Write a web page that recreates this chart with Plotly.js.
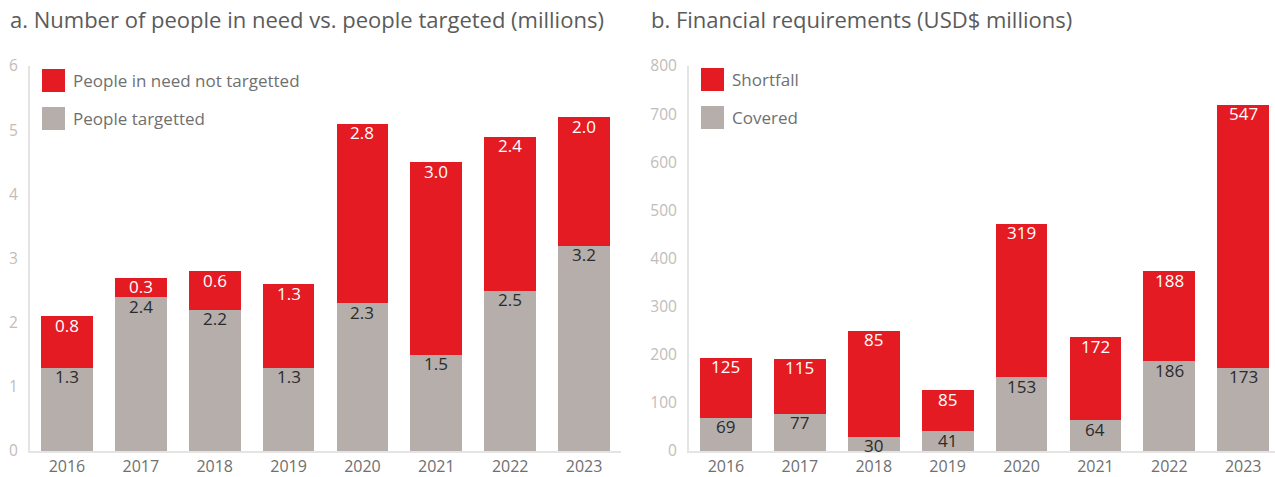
<!DOCTYPE html>
<html>
<head>
<meta charset="utf-8">
<script src="https://cdn.plot.ly/plotly-3.0.1.min.js"></script>
<style>
  html, body { margin: 0; padding: 0; background: #fff; }
  #chart { width: 1275px; height: 477px; }
</style>
</head>
<body>
<div id="chart"></div>
<script>
// data
const years = ['2016', '2017', '2018', '2019', '2020', '2021', '2022', '2023'];

const peopleTargeted = [1.3, 2.4, 2.2, 1.3, 2.3, 1.5, 2.5, 3.2];
const peopleNotTargeted = [0.8, 0.3, 0.6, 1.3, 2.8, 3.0, 2.4, 2.0];

const fundsCovered = [69, 77, 30, 41, 153, 64, 186, 173];
// 2018 bar is drawn up to ~250 in the source although its label reads 85
const fundsShortfall = [125, 115, 220, 85, 319, 172, 188, 547];
const fundsShortfallLabels = ['125', '115', '85', '85', '319', '172', '188', '547'];

const titleA = 'a. Number of people in need vs. people targeted (millions)';
const titleB = 'b. Financial requirements (USD$ millions)';
const legendA = ['People in need not targetted', 'People targetted'];
const legendB = ['Shortfall', 'Covered'];

const RED = '#e41b23';
const GREY = '#b5aeab';
const FONT = '"Open Sans", Lato, sans-serif';
const W = 1275, H = 477;

function bar(xa, ya, y, color) {
    return {
        type: 'bar',
        x: years, y: y,
        xaxis: xa, yaxis: ya,
        marker: { color: color, line: { width: 0 } },
        hoverinfo: 'skip',
        showlegend: false
    };
}

const traces = [
    bar('x', 'y', peopleTargeted, GREY),
    bar('x', 'y', peopleNotTargeted, RED),
    bar('x2', 'y2', fundsCovered, GREY),
    bar('x2', 'y2', fundsShortfall, RED)
];

// pixel helpers for paper coordinates
const px = v => v / W;
const py = v => 1 - v / H;

const annotations = [
    { text: titleA, xref: 'paper', yref: 'paper', x: px(8), y: py(19), xanchor: 'left', yanchor: 'middle',
      showarrow: false, font: { family: FONT, size: 22, color: '#5b5b5b' } },
    { text: titleB, xref: 'paper', yref: 'paper', x: px(649), y: py(19), xanchor: 'left', yanchor: 'middle',
      showarrow: false, font: { family: FONT, size: 22, color: '#5b5b5b' } }
];

// segment labels sit just under the top of each segment
// (x is the category index: a year string would be read as a number)
function segLabels(xa, ya, tops, texts, color) {
    tops.forEach((top, i) => {
        annotations.push({
            text: texts[i], xref: xa, yref: ya, x: i, y: top,
            xanchor: 'center', yanchor: 'top', yshift: 4.5, showarrow: false,
            font: { family: FONT, size: 17, color: color }
        });
    });
}
segLabels('x', 'y', peopleTargeted, peopleTargeted.map(v => v.toFixed(1)), '#2b2b2b');
segLabels('x', 'y', peopleTargeted.map((v, i) => v + peopleNotTargeted[i]),
    peopleNotTargeted.map(v => v.toFixed(1)), '#ffffff');
segLabels('x2', 'y2', fundsCovered, fundsCovered.map(String), '#2b2b2b');
segLabels('x2', 'y2', fundsCovered.map((v, i) => v + fundsShortfall[i]), fundsShortfallLabels, '#ffffff');

const xCommon = {
    type: 'category',
    showgrid: false,
    zeroline: false,
    showline: true,
    linecolor: '#e4e4e4',
    linewidth: 2,
    ticks: '',
    ticklabelstandoff: 0,
    tickfont: { family: FONT, size: 16, color: '#6f6f6f' },
    fixedrange: true,
    automargin: false
};
const yCommon = {
    showgrid: false,
    zeroline: false,
    showline: true,
    linecolor: '#e4e4e4',
    linewidth: 2,
    ticks: '',
    ticklabelstandoff: 7,
    tickfont: { family: FONT, size: 15.5, color: '#c2bcba' },
    fixedrange: true,
    automargin: false
};

// legend boxes and labels drawn as shapes + annotations to get the large square keys
const shapes = [];
function legendItem(x0, y0, color, label) {
    shapes.push({ type: 'rect', xref: 'paper', yref: 'paper',
        x0: px(x0), x1: px(x0 + 23), y0: py(y0), y1: py(y0 + 23),
        fillcolor: color, line: { width: 0 } });
    annotations.push({ text: label, xref: 'paper', yref: 'paper',
        x: px(x0 + 29), y: py(y0 + 11.5), xanchor: 'left', yanchor: 'middle',
        showarrow: false, font: { family: FONT, size: 17, color: '#707070' } });
}
legendItem(42, 69, RED, legendA[0]);
legendItem(42, 107, GREY, legendA[1]);
legendItem(701, 68, RED, legendB[0]);
legendItem(701, 106, GREY, legendB[1]);

const layout = {
    width: W, height: H,
    margin: { l: 0, r: 0, t: 0, b: 0 },
    paper_bgcolor: '#ffffff',
    plot_bgcolor: '#ffffff',
    barmode: 'stack',
    bargap: 0.3,
    showlegend: false,
    font: { family: FONT },
    xaxis: Object.assign({}, xCommon, { domain: [px(30), px(621)], range: [-0.5, 7.5], anchor: 'y' }),
    yaxis: Object.assign({}, yCommon, { domain: [py(451), py(66)], range: [0, 6], dtick: 1, anchor: 'x' }),
    xaxis2: Object.assign({}, xCommon, { domain: [px(689), 1], range: [-0.5, 7.43], anchor: 'y2' }),
    yaxis2: Object.assign({}, yCommon, { domain: [py(451), py(66)], range: [0, 800], dtick: 100, anchor: 'x2' }),
    shapes: shapes,
    annotations: annotations
};

Plotly.newPlot('chart', traces, layout, { displayModeBar: false, staticPlot: true });
</script>
</body>
</html>
